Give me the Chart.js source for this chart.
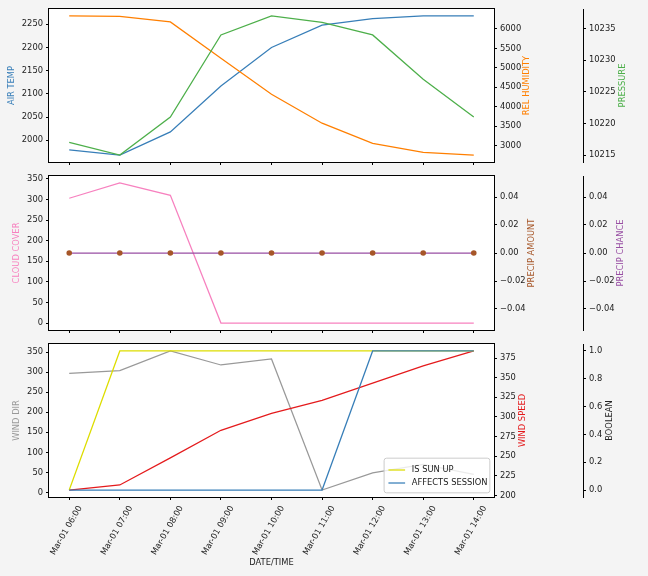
<!DOCTYPE html>
<html>
<head>
<meta charset="utf-8">
<script src="https://cdn.jsdelivr.net/npm/chart.js@4.4.0/dist/chart.umd.min.js"></script>
<style>
  body { margin: 0; background: #f4f4f4; }
  .panel { position: absolute; left: 0; width: 648px; }
</style>
</head>
<body>
<div class="panel" style="top:0;height:170px"><canvas id="c1"></canvas></div>
<div class="panel" style="top:170px;height:167px"><canvas id="c2"></canvas></div>
<div class="panel" style="top:337px;height:239px"><canvas id="c3"></canvas></div>
<script>
// x categories
const timeLabels = ['Mar-01 06:00', 'Mar-01 07:00', 'Mar-01 08:00', 'Mar-01 09:00', 'Mar-01 10:00',
                    'Mar-01 11:00', 'Mar-01 12:00', 'Mar-01 13:00', 'Mar-01 14:00'];

// series
const airTemp = [1979, 1968, 2018, 2117, 2200, 2248, 2262, 2268, 2268];
const relHumidity = [6333, 6322, 6179, 5248, 4320, 3578, 3058, 2828, 2759];
const pressure = [10217, 10215, 10221, 10234, 10237, 10236, 10234, 10227, 10221];
const cloudCover = [303, 340, 310, 0, 0, 0, 0, 0, 0];
const precipAmount = [0, 0, 0, 0, 0, 0, 0, 0, 0];
const precipChance = [0, 0, 0, 0, 0, 0, 0, 0, 0];
const windDir = [297, 304, 353, 318, 333, 6, 49, 70, 45];
const windSpeed = [207, 213.5, 248, 283, 304.5, 321, 343, 365, 384];
const isSunUp = [0, 1, 1, 1, 1, 1, 1, 1, 1];
const affectsSession = [0, 0, 0, 0, 0, 0, 1, 1, 1];

// tick labels
const airTempTicks = [2000, 2050, 2100, 2150, 2200, 2250];
const humidityTicks = [3000, 3500, 4000, 4500, 5000, 5500, 6000];
const pressureTicks = [10215, 10220, 10225, 10230, 10235];
const cloudTicks = [0, 50, 100, 150, 200, 250, 300, 350];
const precipTicks = [-0.04, -0.02, 0, 0.02, 0.04];
const windDirTicks = [0, 50, 100, 150, 200, 250, 300, 350];
const windSpeedTicks = [200, 225, 250, 275, 300, 325, 350, 375];
const boolTicks = [0, 0.2, 0.4, 0.6, 0.8, 1.0];

const FONT = 'DejaVu Sans';
const tickFont = { family: FONT, size: 8.33 };

const fmtInt = v => String(v);
const fmt2 = v => v.toFixed(2).replace('-', '\u2212');
const fmt1 = v => v.toFixed(1);

// matplotlib-like 5% margin around the data
function padRange(...arrays) {
  const all = [].concat(...arrays);
  let lo = Math.min(...all), hi = Math.max(...all);
  if (lo === hi) { lo -= 0.05; hi += 0.05; }
  const m = (hi - lo) * 0.05;
  return { min: lo - m, max: hi + m };
}

function yScale(position, weight, tickValues, range, fmt, width) {
  return {
    type: 'linear',
    position: position,
    weight: weight,
    min: range.min,
    max: range.max,
    afterBuildTicks: s => { s.ticks = tickValues.map(v => ({ value: v })); },
    afterFit: s => { s.width = width; s.paddingTop = 0; s.paddingBottom = 0; },
    grid: { drawOnChartArea: false, color: '#000', tickLength: 3 },
    border: { display: weight === 1, color: '#000', width: 1 },
    ticks: { color: '#222', font: tickFont, padding: 3, autoSkip: false, callback: fmt }
  };
}

function xScale(showLabels, height) {
  return {
    type: 'linear',
    min: -0.4,
    max: timeLabels.length - 1 + 0.4,
    afterBuildTicks: s => { s.ticks = timeLabels.map((_, i) => ({ value: i })); },
    afterFit: s => { s.height = height; s.paddingLeft = 0; s.paddingRight = 0; },
    grid: { drawOnChartArea: false, color: '#000', tickLength: 3 },
    border: { display: false },
    ticks: {
      display: showLabels, autoSkip: false, minRotation: 60, maxRotation: 60,
      color: '#222', font: tickFont, padding: 4, labelOffset: 11,
      callback: v => timeLabels[v]
    },
    title: { display: showLabels, text: 'DATE/TIME', color: '#222', font: tickFont, padding: { top: 0, bottom: 8 } }
  };
}

function line(label, values, color, axis, order) {
  return {
    label: label,
    data: values.map((v, i) => ({ x: i, y: v })),
    borderColor: color,
    backgroundColor: color,
    borderWidth: 1.25,
    pointRadius: 0,
    tension: 0,
    yAxisID: axis,
    order: order
  };
}

// white plot area, black frame, bottom-to-top axis titles
function makeFrame(titles) {
  return {
    id: 'frame',
    beforeDraw(chart) {
      const a = chart.chartArea, ctx = chart.ctx;
      ctx.save();
      ctx.fillStyle = '#fff';
      ctx.fillRect(a.left, a.top, a.right - a.left, a.bottom - a.top);
      ctx.restore();
    },
    afterDraw(chart) {
      const a = chart.chartArea, ctx = chart.ctx;
      ctx.save();
      ctx.strokeStyle = '#000';
      ctx.lineWidth = 1;
      ctx.strokeRect(Math.round(a.left) - 0.5, Math.round(a.top) - 0.5,
                     Math.round(a.right - a.left) + 1, Math.round(a.bottom - a.top) + 1);
      ctx.font = '8.33px "' + FONT + '"';
      ctx.textAlign = 'center';
      ctx.textBaseline = 'middle';
      const yc = (a.top + a.bottom) / 2;
      titles.forEach(t => {
        ctx.save();
        ctx.translate(t.x, yc);
        ctx.rotate(-Math.PI / 2);
        ctx.fillStyle = t.color;
        ctx.fillText(t.text, 0, 0);
        ctx.restore();
      });
      ctx.restore();
    }
  };
}

// legend box in the lower right of the plot
function makeLegend(indices) {
  return {
    id: 'boxLegend',
    afterDraw(chart) {
      const a = chart.chartArea, ctx = chart.ctx;
      const fs = 8.33;
      ctx.save();
      ctx.font = fs + 'px "' + FONT + '"';
      const items = indices.map(i => chart.data.datasets[i]);
      const textW = Math.max(...items.map(d => ctx.measureText(d.label).width));
      const w = 0.4 * fs + 2 * fs + 0.8 * fs + textW + 0.4 * fs;
      const rowH = 13;
      const h = 0.4 * fs * 2 + rowH * items.length + 2;
      const x0 = a.right - 0.5 * fs - w, y0 = a.bottom - 0.5 * fs - h;
      ctx.beginPath();
      ctx.roundRect(x0, y0, w, h, 2.5);
      ctx.fillStyle = 'rgba(255,255,255,0.8)';
      ctx.fill();
      ctx.strokeStyle = '#cccccc';
      ctx.lineWidth = 1;
      ctx.stroke();
      items.forEach((d, k) => {
        const y = y0 + 0.4 * fs + 4 + rowH * k + rowH / 2 - 2;
        const lx = x0 + 0.4 * fs + 1;
        ctx.beginPath();
        ctx.moveTo(lx, y);
        ctx.lineTo(lx + 2 * fs, y);
        ctx.strokeStyle = d.borderColor;
        ctx.lineWidth = 1.25;
        ctx.stroke();
        ctx.fillStyle = '#222';
        ctx.textBaseline = 'middle';
        ctx.fillText(d.label, lx + 2.8 * fs, y);
      });
      ctx.restore();
    }
  };
}

function baseOptions(padTop, scales) {
  return {
    responsive: true,
    maintainAspectRatio: false,
    animation: false,
    layout: { padding: { top: padTop, left: 0, right: 0, bottom: 0 } },
    plugins: { legend: { display: false }, tooltip: { enabled: false } },
    scales: scales
  };
}

const blue = '#377eb8', orange = '#ff7f00', green = '#4daf4a', pink = '#f781bf',
      brown = '#a65628', purple = '#984ea3', grey = '#999999', red = '#e41a1c', yellow = '#dddd00';

// panel 1: temperature, humidity, pressure
new Chart(document.getElementById('c1'), {
  type: 'line',
  data: { datasets: [
    line('AIR TEMP', airTemp, blue, 'y', 2),
    line('REL HUMIDITY', relHumidity, orange, 'y2', 1),
    line('PRESSURE', pressure, green, 'y3', 0)
  ] },
  options: baseOptions(9, {
    x: xScale(false, 8),
    y: yScale('left', 0, airTempTicks, padRange(airTemp), fmtInt, 49),
    y2: yScale('right', 0, humidityTicks, padRange(relHumidity), fmtInt, 89),
    y3: yScale('right', 1, pressureTicks, padRange(pressure), fmtInt, 65)
  }),
  plugins: [makeFrame([
    { text: 'AIR TEMP', color: blue, x: 11.7 },
    { text: 'REL HUMIDITY', color: orange, x: 527.3 },
    { text: 'PRESSURE', color: green, x: 622.7 }
  ])]
});

// panel 2: clouds and precipitation
const precipDots = line('PRECIP AMOUNT', precipAmount, brown, 'y2', 0);
precipDots.showLine = false;
precipDots.pointRadius = 2.8;
precipDots.pointBorderWidth = 0;

new Chart(document.getElementById('c2'), {
  type: 'line',
  data: { datasets: [
    line('CLOUD COVER', cloudCover, pink, 'y', 2),
    precipDots,
    line('PRECIP CHANCE', precipChance, purple, 'y3', 1)
  ] },
  options: baseOptions(6, {
    x: xScale(false, 7),
    y: yScale('left', 0, cloudTicks, padRange(cloudCover), fmtInt, 49),
    y2: yScale('right', 0, precipTicks, padRange(precipAmount), fmt2, 89),
    y3: yScale('right', 1, precipTicks, padRange(precipChance), fmt2, 65)
  }),
  plugins: [makeFrame([
    { text: 'CLOUD COVER', color: pink, x: 16.7 },
    { text: 'PRECIP AMOUNT', color: brown, x: 532 },
    { text: 'PRECIP CHANCE', color: purple, x: 620.7 }
  ])]
});

// panel 3: wind and flags
new Chart(document.getElementById('c3'), {
  type: 'line',
  data: { datasets: [
    line('WIND DIR', windDir, grey, 'y', 3),
    line('WIND SPEED', windSpeed, red, 'y2', 2),
    line('IS SUN UP', isSunUp, yellow, 'y3', 1),
    line('AFFECTS SESSION', affectsSession, blue, 'y3', 0)
  ] },
  options: baseOptions(7, {
    x: xScale(true, 79),
    y: yScale('left', 0, windDirTicks, padRange(windDir), fmtInt, 49),
    y2: yScale('right', 0, windSpeedTicks, padRange(windSpeed), fmtInt, 89),
    y3: yScale('right', 1, boolTicks, padRange(isSunUp, affectsSession), fmt1, 65)
  }),
  plugins: [makeFrame([
    { text: 'WIND DIR', color: grey, x: 16.7 },
    { text: 'WIND SPEED', color: red, x: 522.7 },
    { text: 'BOOLEAN', color: '#222', x: 610 }
  ]), makeLegend([2, 3])]
});
</script>
</body>
</html>
